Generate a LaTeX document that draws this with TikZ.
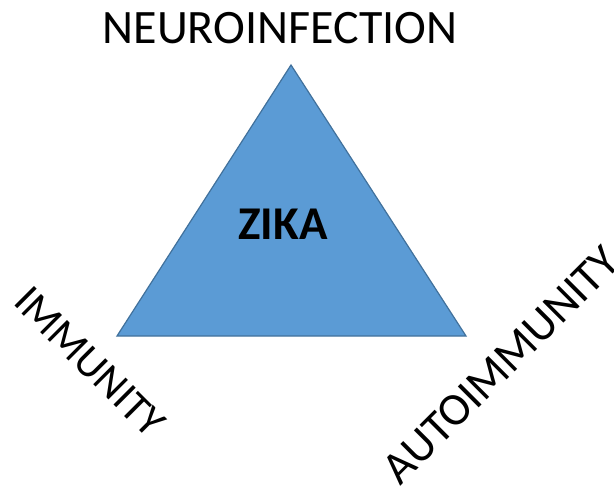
\documentclass[tikz,border=0pt]{standalone}
\usepackage{fontspec}
\setmainfont{Carlito}
\definecolor{trifill}{HTML}{5B9BD5}
\definecolor{triline}{HTML}{41719C}
\tikzset{
  lbl/.style={inner sep=0pt, font=\fontsize{48}{54}\selectfont},
}
\begin{document}
\begin{tikzpicture}[x=1pt, y=-1pt]
  \useasboundingbox (0,0) rectangle (614,492);
  \coordinate (t0) at (291,65);
  \coordinate (t1) at (117,336);
  \coordinate (t2) at (466,336);
  \draw[fill=trifill, draw=triline, line width=1.2pt, line join=miter] (t0) -- (t1) -- (t2) -- cycle;
  \node[lbl] (neuro) at (280,28) {NEUROINFECTION};
  \node[lbl, font=\fontsize{47}{52}\selectfont\bfseries] (zika) at (283,224) {ZIKA};
  \node[lbl, font=\fontsize{43}{48}\selectfont, rotate=-45] (immun) at (90,362) {IMMUNITY};
  \node[lbl, font=\fontsize{46}{52}\selectfont, rotate=45] (autoimm) at (501,365) {AUTOIMMUNITY};
\end{tikzpicture}
\end{document}
